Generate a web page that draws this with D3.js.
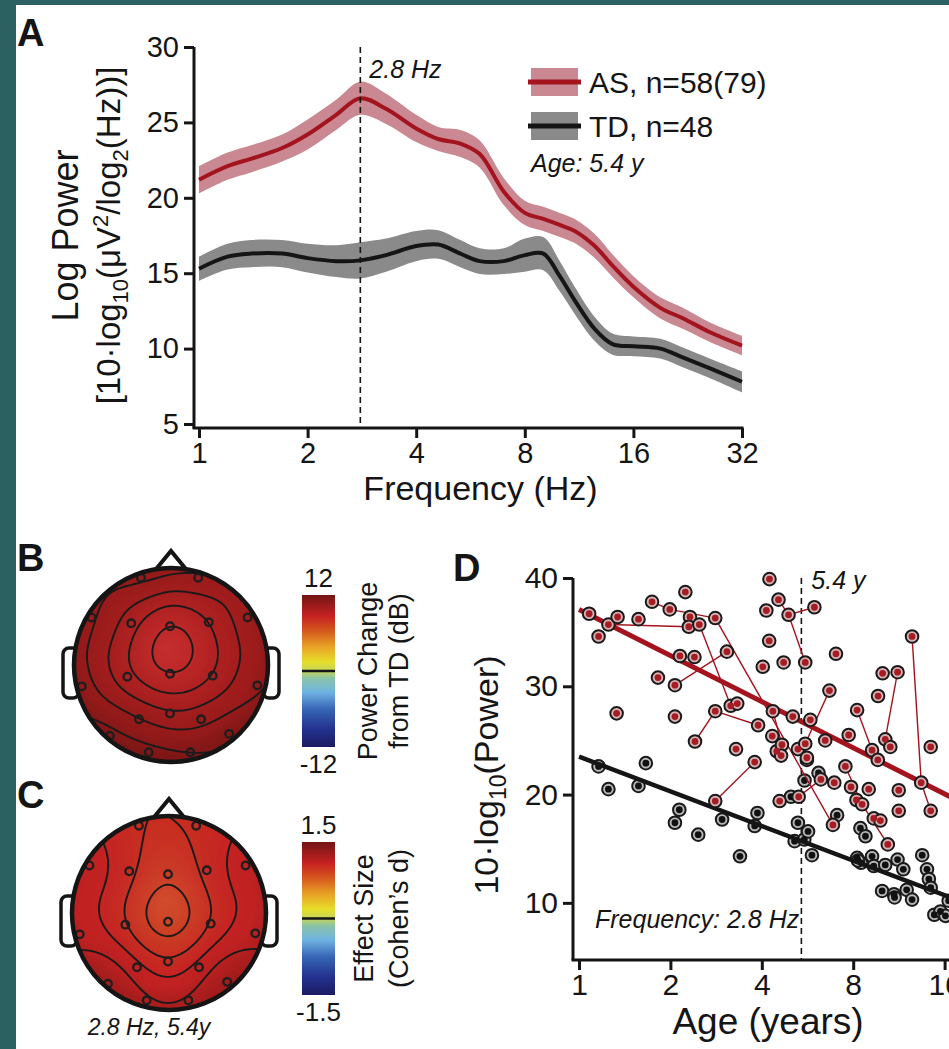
<!DOCTYPE html>
<html>
<head>
<meta charset="utf-8">
<script src="https://d3js.org/d3.v7.min.js"></script>
<style>
    body { margin: 0; background: #fff; }
    svg { display: block; font-family: Arial, "Liberation Sans", sans-serif; }
</style>
</head>
<body>
<div id="fig"></div>
<script>
// ---- Panel A: log power spectra ----
var freqs   = [1, 1.2, 1.4, 1.7, 2, 2.4, 2.8, 3.3, 4, 4.6, 5.3, 6, 7, 8, 9, 10, 11, 12.5, 14, 16, 19, 22, 26, 32];
var powerAS = [21.2, 22.1, 22.6, 23.3, 24.2, 25.5, 26.6, 25.9, 24.6, 23.9, 23.6, 22.9, 20.4, 19.0, 18.6, 18.2, 17.8, 16.8, 15.5, 14.1, 12.7, 12.0, 11.1, 10.2];
var seAS    = [0.9, 0.9, 0.9, 0.9, 1.0, 1.0, 1.1, 1.0, 0.9, 0.8, 0.9, 0.9, 0.9, 0.8, 0.8, 0.8, 0.8, 0.8, 0.75, 0.7, 0.7, 0.7, 0.65, 0.65];
var powerTD = [15.3, 16.1, 16.3, 16.3, 16.0, 15.8, 15.85, 16.2, 16.8, 16.9, 16.3, 15.8, 15.8, 16.2, 16.3, 14.8, 13.2, 11.3, 10.3, 10.15, 10.0, 9.4, 8.7, 7.8];
var seTD    = [0.8, 0.85, 0.9, 0.9, 0.95, 1.05, 1.2, 1.1, 1.0, 0.95, 0.9, 0.85, 0.85, 1.1, 1.1, 1.0, 0.9, 0.8, 0.7, 0.65, 0.65, 0.65, 0.65, 0.7];
var freqTicks  = [1, 2, 4, 8, 16, 32];
var powerTicks = [5, 10, 15, 20, 25, 30];
var peakFreq = 2.8;
var groupLabels = ["AS, n=58(79)", "TD, n=48"];

// ---- Panels B, C: scalp maps (10-20 montage, unit head radius) ----
var electrodes = [
    { name: "Fp1", x: -0.31, y: -0.90 }, { name: "Fp2", x: 0.28, y: -0.90 },
    { name: "F7", x: -0.82, y: -0.49 },  { name: "F8", x: 0.79, y: -0.49 },
    { name: "F3", x: -0.41, y: -0.43 },  { name: "Fz", x: -0.01, y: -0.40 }, { name: "F4", x: 0.39, y: -0.44 },
    { name: "T3", x: -0.92, y: 0.22 },   { name: "C3", x: -0.45, y: 0.12 },  { name: "Cz", x: -0.01, y: 0.09 },
    { name: "C4", x: 0.43, y: 0.11 },    { name: "T4", x: 0.89, y: 0.21 },
    { name: "T5", x: -0.63, y: 0.73 },   { name: "P3", x: -0.33, y: 0.56 },  { name: "Pz", x: -0.01, y: 0.50 },
    { name: "P4", x: 0.31, y: 0.56 },    { name: "T6", x: 0.60, y: 0.71 },
    { name: "O1", x: -0.23, y: 0.90 },   { name: "O2", x: 0.20, y: 0.90 }
];
var powerChangeDB = [11.0, 10.8, 10.9, 10.6, 9.6, 8.4, 9.3, 10.9, 9.5, 8.3, 9.4, 10.6, 11.5, 10.4, 9.8, 10.0, 11.3, 11.7, 11.5];
var cohensD       = [1.02, 1.03, 1.13, 1.13, 1.06, 0.92, 1.06, 1.12, 1.04, 0.78, 1.04, 1.12, 1.28, 1.10, 0.95, 1.10, 1.28, 1.18, 1.18];
var powerChangeRange = [-12, 12];
var effectRange = [-1.5, 1.5];

// ---- Panel D: power at 2.8 Hz vs age ----
var ageAS = [1.08, 1.16, 1.25, 1.34, 1.33, 1.57, 1.74, 1.82, 1.99, 2.07, 2.07, 2.15, 2.24, 2.32, 2.30, 2.40, 2.41, 2.49, 2.81, 2.81,
             2.81, 3.07, 3.16, 3.32, 3.29, 3.79, 3.89, 4.03, 4.14, 4.24, 4.23, 4.35, 4.33, 4.54, 4.48, 4.58, 4.66, 4.63, 4.72, 4.90,
             5.06, 5.26, 5.29, 5.56, 5.56, 5.63, 5.78, 5.96, 6.26, 6.47, 6.68, 6.93, 6.86, 7.02, 7.54, 7.73, 7.87, 8.24, 8.20, 8.56,
             9.0, 9.23, 9.35, 9.64, 9.66, 9.83, 10.0, 10.2, 10.6, 10.4, 11.2, 11.3, 11.3, 12.5, 13.4, 14.4, 14.4];
var logPowerAS = [36.7, 34.6, 35.7, 36.4, 27.5, 36.2, 37.8, 30.8, 37.1, 30.1, 27.2, 32.8, 38.7, 36.4, 35.5, 32.7, 24.9, 35.7, 36.3, 27.7,
                  19.4, 33.2, 28.2, 28.4, 24.2, 23.0, 26.4, 31.8, 37.0, 39.9, 34.2, 27.7, 25.4, 38.0, 24.0, 19.4, 24.6, 23.6, 32.2, 36.6,
                  27.2, 24.2, 19.8, 32.2, 24.7, 23.4, 26.9, 37.3, 21.4, 25.0, 29.6, 21.1, 17.2, 33.0, 22.6, 25.5, 20.7, 27.8, 19.5, 19.1,
                  20.5, 24.1, 17.8, 23.2, 29.1, 17.6, 31.2, 25.1, 24.4, 15.4, 31.3, 20.4, 18.5, 34.6, 21.1, 24.4, 18.5];
var ageTD = [1.16, 1.25, 1.57, 1.66, 2.07, 2.14, 2.47, 2.96, 3.39, 3.79, 3.87, 4.99, 5.13, 5.26, 5.52, 5.53, 5.63, 5.68, 5.85, 6.15,
             7.08, 8.45, 8.78, 8.24, 8.49, 9.23, 9.35, 9.96, 10.2, 10.9, 11.2, 11.7, 12.0, 12.5, 13.5, 14.0, 14.2, 14.4, 14.8, 15.5,
             16.1, 16.5, 10.95, 8.3];
var logPowerTD = [22.6, 20.5, 20.8, 22.9, 17.4, 18.6, 16.3, 17.7, 14.3, 17.1, 18.3, 19.8, 15.7, 17.4, 15.85, 21.3, 23.2, 16.6, 14.4, 22.0,
                  18.1, 16.9, 16.15, 14.15, 13.7, 14.3, 13.4, 11.1, 13.5, 10.8, 14.0, 13.1, 11.2, 10.3, 14.4, 13.1, 12.2, 11.4, 8.9, 9.2,
                  8.8, 10.2, 10.5, 13.9];
// repeat visits of the same AS child (index pairs into ageAS)
var followUps = [[2, 14], [6, 8], [8, 18], [18, 52], [17, 22], [9, 21], [19, 26], [16, 19], [20, 25], [33, 39], [39, 47],
                 [39, 43], [50, 44], [42, 48], [57, 61], [70, 67], [73, 74], [74, 76], [54, 59], [59, 69], [31, 36]];
var fitAges = [1, 32];
var fitAS = [37.1, 15.8];
var fitTD = [23.5, 7.5];
var ageTicks = [1, 2, 4, 8, 16, 32];
var logPowerTicks = [10, 20, 30, 40];
var meanAge = 5.4;

var font = "Arial, 'Liberation Sans', sans-serif";
var ink = "#151515";
var redLine = "#a3141f", redBand = "#c98892";
var blackBand = "#8a8a8a";

// muted jet colormap on 0..1
var cmap = d3.scaleLinear()
    .domain([0, 0.12, 0.25, 0.36, 0.45, 0.5, 0.56, 0.66, 0.76, 0.86, 1])
    .range(["#1d1a62", "#233390", "#3766b6", "#6fb3e2", "#89c3a8", "#c4d35a", "#e6de2a", "#e9a226", "#d65a1e", "#c62222", "#741414"]);

// plain hyphen for negative labels
function hyphen(fmt) {
    return function(v) { return fmt(v).replace("\u2212", "-"); };
}

function init() {
    var W = 949, H = 1049;
    var svg = d3.select("#fig").append("svg").attr("width", W).attr("height", H);
    var defs = svg.append("defs");

    // slide frame
    svg.append("rect").attr("width", W).attr("height", H).attr("fill", "#2b6261");
    svg.append("rect").attr("x", 16).attr("y", 5).attr("width", W - 16).attr("height", H - 5).attr("fill", "#fff");

    function styleAxis(g, fs) {
        g.select(".domain").remove();
        g.selectAll(".tick line").attr("stroke", ink).attr("stroke-width", 3);
        g.selectAll(".tick text").attr("fill", ink).style("font-size", fs + "px").style("font-family", font);
    }

    function panelLetter(txt, x, y) {
        svg.append("text").attr("x", x).attr("y", y).style("font-size", "38px").style("font-weight", "bold")
            .attr("fill", ink).text(txt);
    }

    // =================== A ===================
    var xA = d3.scaleLog().base(2).domain([1, 32]).range([199, 742]);
    var yA = d3.scaleLinear().domain([5, 30]).range([424, 47]);
    var axA = xA(1) - 5;
    var gA = svg.append("g");

    var specAS = freqs.map(function(f, i) { return { f: f, v: powerAS[i], se: seAS[i] }; });
    var specTD = freqs.map(function(f, i) { return { f: f, v: powerTD[i], se: seTD[i] }; });

    var band = d3.area().curve(d3.curveCatmullRom)
        .x(function(d) { return xA(d.f); })
        .y0(function(d) { return yA(d.v - d.se); })
        .y1(function(d) { return yA(d.v + d.se); });
    var mean = d3.line().curve(d3.curveCatmullRom)
        .x(function(d) { return xA(d.f); })
        .y(function(d) { return yA(d.v); });

    gA.append("path").datum(specTD).attr("d", band).attr("fill", blackBand);
    gA.append("path").datum(specAS).attr("d", band).attr("fill", redBand);
    gA.append("path").datum(specTD).attr("d", mean).attr("fill", "none").attr("stroke", ink).attr("stroke-width", 4);
    gA.append("path").datum(specAS).attr("d", mean).attr("fill", "none").attr("stroke", redLine).attr("stroke-width", 4);

    // dashed marker at peak frequency
    gA.append("line").attr("x1", xA(peakFreq)).attr("x2", xA(peakFreq)).attr("y1", yA(30)).attr("y2", yA(5) + 4)
        .attr("stroke", ink).attr("stroke-width", 1.6).attr("stroke-dasharray", "6,4");
    gA.append("text").attr("x", xA(peakFreq) + 9).attr("y", 78).style("font-size", "25px").style("font-style", "italic")
        .attr("fill", ink).text(peakFreq + " Hz");

    // axes
    gA.append("line").attr("x1", axA).attr("x2", axA).attr("y1", yA(30)).attr("y2", yA(5) + 4)
        .attr("stroke", ink).attr("stroke-width", 3);
    gA.append("line").attr("x1", axA - 1.5).attr("x2", xA(32) + 1.5).attr("y1", yA(5) + 4).attr("y2", yA(5) + 4)
        .attr("stroke", ink).attr("stroke-width", 3);
    gA.append("g").attr("transform", "translate(" + axA + ",0)")
        .call(d3.axisLeft(yA).tickValues(powerTicks).tickSize(10).tickPadding(5))
        .call(styleAxis, 29);
    gA.append("g").attr("transform", "translate(0," + (yA(5) + 4) + ")")
        .call(d3.axisBottom(xA).tickValues(freqTicks).tickFormat(d3.format("d")).tickSize(10).tickPadding(4))
        .call(styleAxis, 29);

    gA.append("text").attr("x", (xA(1) + xA(32)) / 2 + 10).attr("y", 500).attr("text-anchor", "middle")
        .style("font-size", "34px").attr("fill", ink).text("Frequency (Hz)");

    var midA = (yA(30) + yA(5)) / 2;
    gA.append("text").attr("transform", "translate(78," + midA + ") rotate(-90)").attr("text-anchor", "middle")
        .style("font-size", "36px").attr("fill", ink).text("Log Power");
    var t2 = gA.append("text").attr("transform", "translate(120," + midA + ") rotate(-90)").attr("text-anchor", "middle")
        .style("font-size", "33px").attr("fill", ink);
    t2.append("tspan").text("[10·log");
    t2.append("tspan").attr("dy", 8).style("font-size", "22px").text("10");
    t2.append("tspan").attr("dy", -8).text("(μV");
    t2.append("tspan").attr("dy", -12).style("font-size", "22px").text("2");
    t2.append("tspan").attr("dy", 12).text("/log");
    t2.append("tspan").attr("dy", 8).style("font-size", "22px").text("2");
    t2.append("tspan").attr("dy", -8).text("(Hz))]");

    // legend
    var legend = gA.selectAll(".legend").data(groupLabels).enter().append("g")
        .attr("class", "legend")
        .attr("transform", function(d, i) { return "translate(531," + (68 + i * 44) + ")"; });
    legend.append("rect").attr("width", 47).attr("height", 28)
        .attr("fill", function(d, i) { return i === 0 ? redBand : blackBand; });
    legend.append("line").attr("x1", -3).attr("x2", 50).attr("y1", 14).attr("y2", 14).attr("stroke-width", 5)
        .attr("stroke", function(d, i) { return i === 0 ? redLine : ink; });
    legend.append("text").attr("x", 58).attr("y", 25).style("font-size", "30px").attr("fill", ink)
        .text(function(d) { return d; });
    gA.append("text").attr("x", 531).attr("y", 172).style("font-size", "25px").style("font-style", "italic")
        .attr("fill", ink).text("Age: " + meanAge + " y");

    panelLetter("A", 17, 46);

    // =================== B, C ===================
    var shade = defs.append("radialGradient").attr("id", "shade").attr("cx", "48%").attr("cy", "42%").attr("r", "60%");
    shade.append("stop").attr("offset", "0%").attr("stop-color", "#fff").attr("stop-opacity", 0.06);
    shade.append("stop").attr("offset", "75%").attr("stop-color", "#000").attr("stop-opacity", 0);
    shade.append("stop").attr("offset", "100%").attr("stop-color", "#000").attr("stop-opacity", 0.12);

    function drawTopo(cx, cy, r, values, range, fillStep, isoLevels, clipId) {
        var g = svg.append("g");
        var norm = d3.scaleLinear().domain(range).range([0, 1]).clamp(true);

        // ears
        [-1, 1].forEach(function(s) {
            g.append("rect").attr("x", s < 0 ? cx - r - 11 : cx + r - 5).attr("y", cy - 17)
                .attr("width", 16).attr("height", 50).attr("rx", 6)
                .attr("fill", "#fff").attr("stroke", ink).attr("stroke-width", 3.5);
        });
        // nose
        g.append("path")
            .attr("d", "M" + (cx - 19) + "," + (cy - r + 6) + "L" + cx + "," + (cy - r - 17) + "L" + (cx + 19) + "," + (cy - r + 6))
            .attr("fill", "#fff").attr("stroke", ink).attr("stroke-width", 4);

        defs.append("clipPath").attr("id", clipId).append("circle").attr("cx", cx).attr("cy", cy).attr("r", r);

        // smooth the electrode values onto a grid (gaussian kernel)
        var n = 110, sigma = 0.27;
        var grid = new Array(n * n);
        for (var j = 0; j < n; j++) {
            for (var i = 0; i < n; i++) {
                var px = (i + 0.5) / n * 2 - 1, py = (j + 0.5) / n * 2 - 1;
                var sw = 0, sv = 0;
                electrodes.forEach(function(e, k) {
                    var d2 = (px - e.x) * (px - e.x) + (py - e.y) * (py - e.y);
                    var w = Math.exp(-d2 / (2 * sigma * sigma));
                    sw += w; sv += w * values[k];
                });
                grid[j * n + i] = sv / sw;
            }
        }
        var path = d3.geoPath(d3.geoIdentity().scale(2 * r / n).translate([cx - r, cy - r]));
        var ext = d3.extent(grid);
        var fillLevels = d3.range(ext[0] - fillStep, ext[1], fillStep);

        var topo = g.append("g").attr("clip-path", "url(#" + clipId + ")");
        topo.selectAll("path.band")
            .data(d3.contours().size([n, n]).thresholds(fillLevels)(grid))
            .enter().append("path").attr("class", "band")
            .attr("d", path)
            .attr("fill", function(d) { return cmap(norm(d.value + fillStep / 2)); });
        topo.append("circle").attr("cx", cx).attr("cy", cy).attr("r", r).attr("fill", "url(#shade)");
        topo.selectAll("path.iso")
            .data(d3.contours().size([n, n]).thresholds(isoLevels)(grid))
            .enter().append("path").attr("class", "iso")
            .attr("d", path).attr("fill", "none").attr("stroke", "#1a1a1a").attr("stroke-width", 1.9);

        g.selectAll("circle.el").data(electrodes).enter().append("circle").attr("class", "el")
            .attr("cx", function(d) { return cx + d.x * r; })
            .attr("cy", function(d) { return cy + d.y * r; })
            .attr("r", 3.8).attr("fill", "none").attr("stroke", "#1e1e1e").attr("stroke-width", 2.3);

        g.append("circle").attr("cx", cx).attr("cy", cy).attr("r", r)
            .attr("fill", "none").attr("stroke", ink).attr("stroke-width", 4.5);
    }

    var grad = defs.append("linearGradient").attr("id", "jet").attr("x1", 0).attr("x2", 0).attr("y1", 1).attr("y2", 0);
    cmap.domain().forEach(function(t, i) {
        grad.append("stop").attr("offset", (t * 100) + "%").attr("stop-color", cmap.range()[i]);
    });

    function colorBar(top, bottom, range, fmt, line1, line2, x1, x2) {
        var cb = svg.append("g");
        var y = d3.scaleLinear().domain(range).range([bottom, top]);
        var x = 302, w = 33;
        cb.append("rect").attr("x", x).attr("y", y(range[1])).attr("width", w).attr("height", y(range[0]) - y(range[1]))
            .attr("fill", "url(#jet)");
        cb.append("line").attr("x1", x).attr("x2", x + w).attr("y1", y(0)).attr("y2", y(0))
            .attr("stroke", ink).attr("stroke-width", 2.5);
        cb.append("text").attr("x", x + w / 2).attr("y", y(range[1]) - 8).attr("text-anchor", "middle")
            .style("font-size", "26px").attr("fill", ink).text(fmt(range[1]));
        cb.append("text").attr("x", x + w / 2).attr("y", y(range[0]) + 26).attr("text-anchor", "middle")
            .style("font-size", "26px").attr("fill", ink).text(fmt(range[0]));
        var mid = (top + bottom) / 2;
        cb.append("text").attr("transform", "translate(" + x1 + "," + mid + ") rotate(-90)").attr("text-anchor", "middle")
            .style("font-size", "27px").attr("fill", ink).text(line1);
        cb.append("text").attr("transform", "translate(" + x2 + "," + mid + ") rotate(-90)").attr("text-anchor", "middle")
            .style("font-size", "27px").attr("fill", ink).text(line2);
    }

    drawTopo(171, 665, 97, powerChangeDB, powerChangeRange, 0.12, [8.6, 9.0, 9.5, 10.0, 10.5, 11.0], "clipB");
    colorBar(595, 747, powerChangeRange, hyphen(d3.format("d")), "Power Change", "from TD (dB)", 377, 408);
    panelLetter("B", 17, 571);

    drawTopo(169, 913, 97, cohensD, effectRange, 0.015, [0.86, 0.95, 1.02, 1.08, 1.14, 1.21], "clipC");
    colorBar(842, 995, effectRange, hyphen(d3.format(".1f")), "Effect Size", "(Cohen\u2019s d)", 373, 408);
    panelLetter("C", 17, 808);
    svg.append("text").attr("x", 149).attr("y", 1035).attr("text-anchor", "middle")
        .style("font-size", "23px").style("font-style", "italic").attr("fill", ink)
        .text(peakFreq + " Hz, " + meanAge + "y");

    // =================== D ===================
    var xD = d3.scaleLog().base(2).domain([1, 32]).range([579, 1036]);
    var yD = d3.scaleLinear().domain([5, 40]).range([957, 578]);
    var axD = xD(1) - 6;
    var baseD = yD(5) + 3;
    var gD = svg.append("g");

    var ptsAS = ageAS.map(function(a, i) { return { age: a, v: logPowerAS[i] }; });
    var ptsTD = ageTD.map(function(a, i) { return { age: a, v: logPowerTD[i] }; });

    gD.append("line").attr("x1", xD(meanAge)).attr("x2", xD(meanAge)).attr("y1", yD(40)).attr("y2", baseD)
        .attr("stroke", ink).attr("stroke-width", 1.6).attr("stroke-dasharray", "6,4");

    function dots(data, ring, core) {
        var g = gD.append("g");
        g.selectAll("circle.o").data(data).enter().append("circle")
            .attr("cx", function(d) { return xD(d.age); })
            .attr("cy", function(d) { return yD(d.v); })
            .attr("r", 6.3).attr("fill", ring).attr("stroke", "#1a1a1a").attr("stroke-width", 2);
        g.selectAll("circle.i").data(data).enter().append("circle")
            .attr("cx", function(d) { return xD(d.age); })
            .attr("cy", function(d) { return yD(d.v); })
            .attr("r", 3.4).attr("fill", core);
    }

    dots(ptsTD, "#b9b9b9", "#111");
    var fitLine = d3.line().x(function(d) { return xD(d[0]); }).y(function(d) { return yD(d[1]); });
    gD.append("path").datum(fitAges.map(function(a, i) { return [a, fitTD[i]]; })).attr("d", fitLine)
        .attr("stroke", ink).attr("stroke-width", 4.5).attr("fill", "none");
    gD.append("path").datum(fitAges.map(function(a, i) { return [a, fitAS[i]]; })).attr("d", fitLine)
        .attr("stroke", redLine).attr("stroke-width", 5).attr("fill", "none");
    gD.selectAll("line.visit").data(followUps).enter().append("line").attr("class", "visit")
        .attr("x1", function(d) { return xD(ageAS[d[0]]); })
        .attr("y1", function(d) { return yD(logPowerAS[d[0]]); })
        .attr("x2", function(d) { return xD(ageAS[d[1]]); })
        .attr("y2", function(d) { return yD(logPowerAS[d[1]]); })
        .attr("stroke", redLine).attr("stroke-width", 1.4);
    dots(ptsAS, "#d7b3b6", "#a51c22");

    // axes
    gD.append("line").attr("x1", axD).attr("x2", axD).attr("y1", yD(40)).attr("y2", baseD)
        .attr("stroke", ink).attr("stroke-width", 3);
    gD.append("line").attr("x1", axD - 1.5).attr("x2", xD(32)).attr("y1", baseD).attr("y2", baseD)
        .attr("stroke", ink).attr("stroke-width", 3);
    gD.append("g").attr("transform", "translate(" + axD + ",0)")
        .call(d3.axisLeft(yD).tickValues(logPowerTicks).tickSize(10).tickPadding(5))
        .call(styleAxis, 30);
    gD.append("g").attr("transform", "translate(0," + baseD + ")")
        .call(d3.axisBottom(xD).tickValues(ageTicks).tickFormat(d3.format("d")).tickSize(10).tickPadding(4))
        .call(styleAxis, 30);

    gD.append("text").attr("x", xD(meanAge) + 10).attr("y", 589).style("font-size", "25px").style("font-style", "italic")
        .attr("fill", ink).text(meanAge + " y");
    gD.append("text").attr("x", 595).attr("y", 928).style("font-size", "25px").style("font-style", "italic")
        .attr("fill", ink).text("Frequency: " + peakFreq + " Hz");

    gD.append("text").attr("x", 768).attr("y", 1034).attr("text-anchor", "middle")
        .style("font-size", "37px").attr("fill", ink).text("Age (years)");
    var tD = gD.append("text").attr("transform", "translate(498,775) rotate(-90)").attr("text-anchor", "middle")
        .style("font-size", "34px").attr("fill", ink);
    tD.append("tspan").text("10·log");
    tD.append("tspan").attr("dy", 8).style("font-size", "23px").text("10");
    tD.append("tspan").attr("dy", -8).text("(Power)");

    panelLetter("D", 453, 581);
}

window.onload = init;
</script>
</body>
</html>
